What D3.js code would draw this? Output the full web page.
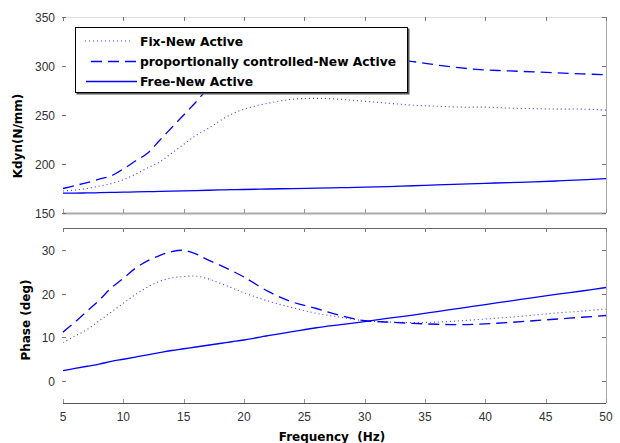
<!DOCTYPE html>
<html>
<head>
<meta charset="utf-8">
<script src="https://cdn.jsdelivr.net/npm/d3@7"></script>
<style>
  html, body { margin: 0; padding: 0; background: #fff; }
  svg { display: block; }
  .tick-label { font-family: "Liberation Sans", Arial, sans-serif; font-size: 12px; fill: #333; }
  .axis-title { font-family: "DejaVu Sans", Verdana, sans-serif; font-size: 12px; font-weight: bold; fill: #000; }
  .legend-text { font-family: "DejaVu Sans", Verdana, sans-serif; font-size: 12.3px; font-weight: bold; fill: #000; }
</style>
</head>
<body>
<svg id="chart" width="620" height="443"></svg>
<script>
// Frequency sweep (Hz)
const frequency = [5,6,7,8,9,10,11,12,13,14,15,16,17,18,19,20,22,24,26,28,30,32,34,36,38,40,42,44,46,48,50];

// Dynamic stiffness Kdyn (N/mm)
const kdynFix  = [172.5,173.5,175,177.5,180,184,189.5,196,202,211,220,229,236,244,251,256,262,266,267,266,264,262,260,259,258,258,257,256.5,256,256,255];
const kdynProp = [175,178,181,184.5,188,195,203,211,224,237,250,263,277,290,300,307,314,316,315,312,309,306.5,304.5,301,298,296,295,294,293,292,291];
const kdynFree = [170.2,170.3,170.5,170.7,171,171.3,171.5,171.8,172,172.3,172.6,172.9,173.2,173.5,173.8,174,174.5,174.9,175.3,175.8,176.4,177,177.8,178.6,179.4,180.3,181,181.8,182.7,183.8,185];

// Phase (deg)
const phaseFix  = [8.8,10.3,11.8,13.8,15.8,17.8,19.8,21.5,22.8,23.6,23.9,24,23.4,22.4,21.3,20.2,18.3,16.8,15.5,14.6,13.8,13.5,13.4,13.5,13.8,14.2,14.6,15.1,15.6,16,16.5];
const phaseProp = [11.2,13.5,16,18.5,21.3,23.5,25.8,27.5,28.7,29.6,29.9,29.1,27.7,26.5,25.2,23.8,20.5,18.1,16.6,15,13.8,13.5,13.2,13,12.9,13.1,13.4,13.8,14.2,14.6,15];
const phaseFree = [2.4,2.9,3.4,3.9,4.5,5.0,5.5,6.0,6.5,7.0,7.4,7.8,8.2,8.6,9.0,9.4,10.4,11.3,12.2,12.9,13.6,14.4,15.1,15.9,16.7,17.5,18.3,19.1,19.9,20.6,21.4];

// Axis ticks and labels
const xTicks = [5,10,15,20,25,30,35,40,45,50];
const kdynTicks = [150,200,250,300,350];
const phaseTicks = [0,10,20,30];
const legendLabels = ["Fix-New Active", "proportionally controlled-New Active", "Free-New Active"];

const svg = d3.select("#chart");
const blue = "#0000ff";
const styles = [
  { dash: "1,3", width: 1.1, color: "#3a3aff" },   // dotted
  { dash: "11,6", width: 1.3, color: blue },       // dashed
  { dash: null, width: 1.3, color: blue }          // solid
];

const x = d3.scaleLinear().domain([5, 50]).range([63, 606]);
const yTop = d3.scaleLinear().domain([150, 350]).range([213, 17]);
const yBot = d3.scaleLinear().domain([-5, 35]).range([403, 228]);

function drawPanel(y, series, ticks, frame) {
  const g = svg.append("g");
  const [y0, y1] = y.range();
  // series lines
  series.forEach((vals, i) => {
    const line = d3.line()
      .x((d, j) => x(frequency[j]))
      .y(d => y(d))
      .curve(d3.curveCatmullRom);
    g.append("path")
      .attr("d", line(vals))
      .attr("fill", "none")
      .attr("stroke", styles[i].color)
      .attr("stroke-width", styles[i].width)
      .attr("stroke-dasharray", styles[i].dash);
  });
  // frame lines
  g.append("line").attr("x1", 63).attr("x2", 606).attr("y1", y1 + 0.5).attr("y2", y1 + 0.5)
    .attr("stroke", frame.top).attr("stroke-width", 1);
  g.append("line").attr("x1", 63).attr("x2", 606).attr("y1", y0 + 0.5).attr("y2", y0 + 0.5)
    .attr("stroke", frame.bottom).attr("stroke-width", frame.bottomWidth);
  g.append("line").attr("x1", 606.5).attr("x2", 606.5).attr("y1", y1).attr("y2", y0)
    .attr("stroke", "#aaa").attr("stroke-width", 1);
  // x tick marks on top and bottom edges
  xTicks.forEach(t => {
    g.append("line").attr("x1", Math.round(x(t)) + 0.5).attr("x2", Math.round(x(t)) + 0.5)
      .attr("y1", y1).attr("y2", y1 + 4).attr("stroke", "#777");
    g.append("line").attr("x1", Math.round(x(t)) + 0.5).attr("x2", Math.round(x(t)) + 0.5)
      .attr("y1", y0 - 4).attr("y2", y0).attr("stroke", "#999");
  });
  // y tick marks and labels
  ticks.forEach(t => {
    const ty = Math.round(y(t)) + 0.5;
    g.append("line").attr("x1", 62).attr("x2", 66).attr("y1", ty).attr("y2", ty).attr("stroke", "#777");
    g.append("line").attr("x1", 602).attr("x2", 606).attr("y1", ty).attr("y2", ty).attr("stroke", "#777");
    g.append("text").attr("class", "tick-label")
      .attr("x", 55).attr("y", ty + 4).attr("text-anchor", "end").text(t);
  });
  return g;
}

drawPanel(yTop, [kdynFix, kdynProp, kdynFree], kdynTicks, { top: "#ddd", bottom: "#aaa", bottomWidth: 2 });
drawPanel(yBot, [phaseFix, phaseProp, phaseFree], phaseTicks, { top: "#666", bottom: "#555", bottomWidth: 1 });

// x tick labels under the lower panel
xTicks.forEach(t => {
  svg.append("text").attr("class", "tick-label")
    .attr("x", x(t)).attr("y", 421).attr("text-anchor", "middle").text(t);
});

// axis titles
svg.append("text").attr("class", "axis-title")
  .attr("transform", "translate(22,136) rotate(-90)")
  .attr("text-anchor", "middle").text("Kdyn(N/mm)");
svg.append("text").attr("class", "axis-title")
  .attr("transform", "translate(30,320) rotate(-90)")
  .attr("text-anchor", "middle").text("Phase (deg)");
svg.append("text").attr("class", "axis-title")
  .attr("x", 332).attr("y", 441).attr("text-anchor", "middle")
  .attr("xml:space", "preserve").text("Frequency  (Hz)");

// legend
const legend = svg.append("g");
legend.append("rect").attr("x", 76.5).attr("y", 28.5).attr("width", 333).attr("height", 66)
  .attr("fill", "#555");
legend.append("rect").attr("x", 75.5).attr("y", 27.5).attr("width", 332).attr("height", 65)
  .attr("fill", "#fff").attr("stroke", "#000").attr("stroke-width", 1);
const rowY = [41, 61.5, 81.5];
const sampleX = [[85, 133], [91, 137], [86, 137]];
legendLabels.forEach((label, i) => {
  legend.append("line")
    .attr("x1", sampleX[i][0]).attr("x2", sampleX[i][1])
    .attr("y1", rowY[i]).attr("y2", rowY[i])
    .attr("stroke", styles[i].color)
    .attr("stroke-width", styles[i].width)
    .attr("stroke-dasharray", styles[i].dash);
  legend.append("text").attr("class", "legend-text")
    .attr("x", 140).attr("y", rowY[i] + 4.5).text(label);
});
</script>
</body>
</html>
